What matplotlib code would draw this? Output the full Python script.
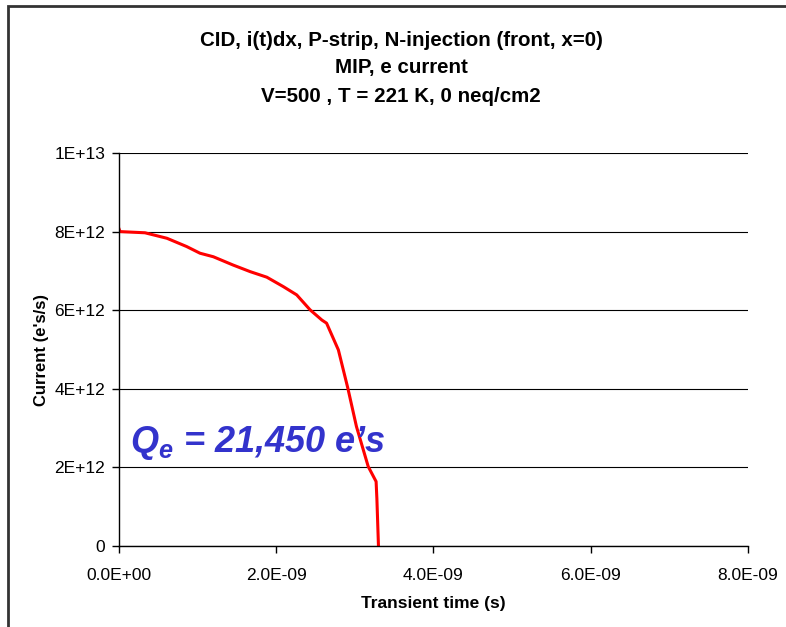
import numpy as np
import matplotlib
matplotlib.use("Agg")
import matplotlib.pyplot as plt
from matplotlib.patches import Rectangle

plt.rcParams['font.family'] = ['Liberation Sans', 'DejaVu Sans']
plt.rcParams['mathtext.fontset'] = 'custom'
plt.rcParams['mathtext.it'] = 'Liberation Sans:italic:bold'
plt.rcParams['mathtext.rm'] = 'Liberation Sans:italic:bold'

# electron current vs transient time
time_ns = [0.0, 0.013, 0.33, 0.61, 0.86, 1.03, 1.20, 1.45, 1.67, 1.88, 2.09,
           2.26, 2.43, 2.58, 2.64, 2.79, 2.91, 3.02, 3.17, 3.27, 3.28, 3.30]
current_e12 = [8.07, 8.0, 7.97, 7.83, 7.62, 7.45, 7.36, 7.15, 6.98, 6.84, 6.60,
               6.39, 6.01, 5.75, 5.67, 4.99, 4.02, 3.04, 2.02, 1.64, 1.2, 0.0]

x_ticks = [0, 2e-9, 4e-9, 6e-9, 8e-9]
x_labels = ["0.0E+00", "2.0E-09", "4.0E-09", "6.0E-09", "8.0E-09"]
y_ticks = [0, 2e12, 4e12, 6e12, 8e12, 1e13]
y_labels = ["0", "2E+12", "4E+12", "6E+12", "8E+12", "1E+13"]

t = np.array(time_ns) * 1e-9
cur = np.array(current_e12) * 1e12

fig = plt.figure(figsize=(7.86, 6.27), dpi=100)
W, H = 786, 627
ax = fig.add_axes([119 / W, 1 - 546 / H, (748 - 119) / W, (546 - 153) / H])

ax.plot(t, cur, color='#FF0000', lw=2.2)

ax.set_xlim(0, 8e-9)
ax.set_ylim(0, 1e13)
ax.set_xticks(x_ticks)
ax.set_xticklabels(x_labels)
ax.set_yticks(y_ticks)
ax.set_yticklabels(y_labels)
ax.tick_params(direction='out', length=5, width=1, colors='black',
               labelsize=12.5)
ax.tick_params(axis='x', pad=11)
ax.tick_params(axis='y', pad=5)
ax.yaxis.grid(True, color='black', lw=0.8)
ax.set_axisbelow(True)
for s in ['top', 'right']:
    ax.spines[s].set_visible(False)
for s in ['left', 'bottom']:
    ax.spines[s].set_color('black')
    ax.spines[s].set_linewidth(1)

ax.set_xlabel('Transient time (s)', fontsize=12.5, fontweight='bold', labelpad=9)
ax.set_ylabel("Current (e's/s)", fontsize=12, fontweight='bold', labelpad=4)

fig.text(401 / W, 1 - 40 / H, "CID, i(t)dx, P-strip, N-injection (front, x=0)",
         ha='center', va='center', fontsize=14.8, fontweight='bold')
fig.text(401 / W, 1 - 68 / H, "MIP, e current",
         ha='center', va='center', fontsize=14.8, fontweight='bold')
fig.text(401 / W, 1 - 96 / H, "V=500 , T = 221 K, 0 neq/cm2",
         ha='center', va='center', fontsize=14.8, fontweight='bold')

ax.text(1.4e-10, 2.4e12, "$Q_e$ = 21,450 e\u2019s", color='#3333CC',
        fontsize=26, fontweight='bold', fontstyle='italic',
        ha='left', va='baseline')

# outer chart border
fig.patches.append(Rectangle((7.5 / W, -0.05), 1.2, 1 - 5.5 / H + 0.05,
                             transform=fig.transFigure, fill=False,
                             edgecolor='#333333', lw=2))

fig.savefig('out.png', dpi=100)
